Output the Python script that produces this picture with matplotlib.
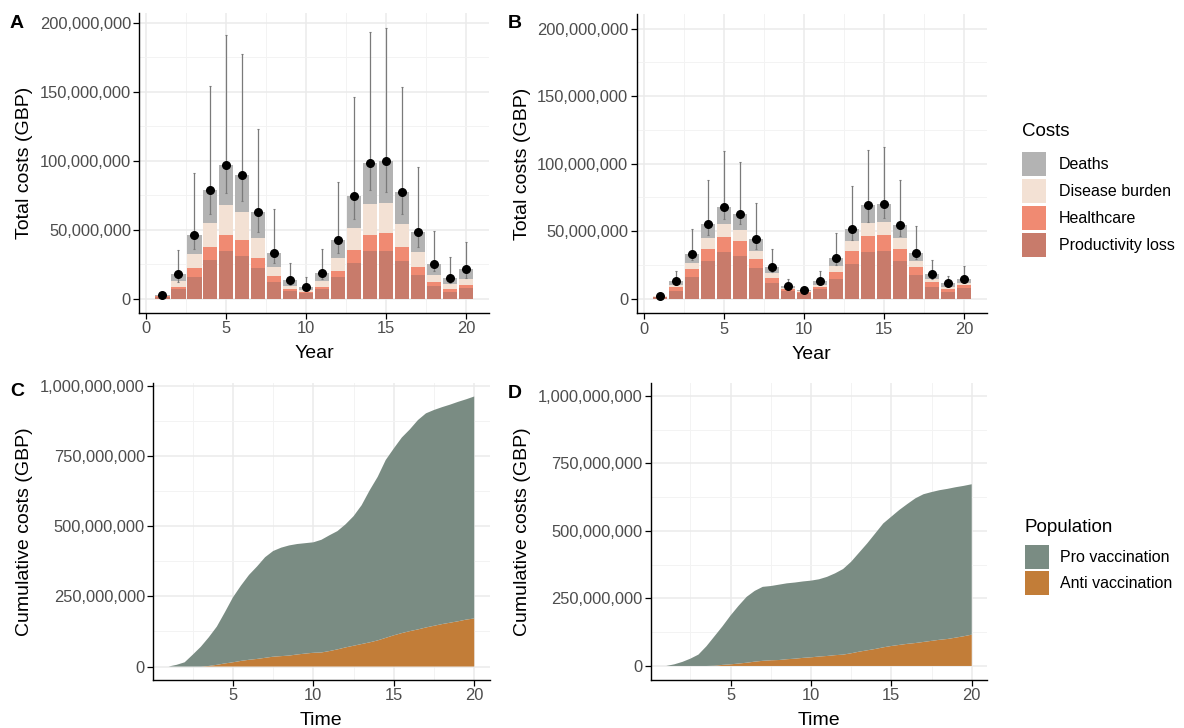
import numpy as np
import matplotlib.pyplot as plt
from matplotlib.patches import Patch
from matplotlib.ticker import MultipleLocator, FuncFormatter

plt.rcParams['font.family'] = ['Liberation Sans', 'DejaVu Sans']

# yearly costs (million GBP), stacked bottom -> top
years = np.arange(1, 21)
prod_a = [1.4, 7.2, 15.9, 28.0, 34.8, 31.2, 22.0, 12.1, 5.8, 3.9, 7.2, 15.5, 26.1, 34.8, 34.8, 27.3, 16.9, 9.4, 5.1, 7.5]
health_a = [0.4, 1.5, 6.1, 9.2, 11.6, 11.1, 7.7, 4.1, 1.4, 0.9, 1.5, 4.8, 9.4, 11.6, 12.5, 9.9, 5.8, 2.4, 2.1, 2.4]
burden_a = [0.3, 4.1, 10.1, 17.6, 21.2, 20.3, 14.3, 6.7, 2.2, 1.2, 4.1, 9.4, 15.9, 22.2, 22.3, 16.9, 11.4, 5.6, 3.2, 4.4]
deaths_a = [0.3, 5.1, 14.3, 23.7, 29.5, 26.8, 18.6, 10.0, 3.9, 2.5, 5.8, 12.8, 23.2, 29.7, 30.2, 23.4, 14.2, 8.0, 4.8, 7.0]
hi_a = [3.0, 35.3, 90.8, 154.0, 191.3, 177.0, 123.0, 64.7, 25.6, 15.9, 36.2, 84.3, 145.9, 193.0, 195.9, 153.6, 95.2, 49.3, 30.0, 41.3]
lo_a = [1.8, 12.0, 35.7, 61.4, 76.3, 70.8, 48.3, 25.6, 9.9, 6.6, 14.0, 33.3, 58.0, 78.7, 77.5, 61.4, 37.7, 20.3, 11.1, 15.2]

prod_b = [1.2, 5.9, 16.3, 27.7, 34.6, 31.9, 22.5, 11.4, 5.9, 4.0, 7.4, 14.8, 26.0, 34.6, 35.6, 27.7, 17.3, 8.9, 5.2, 7.7]
health_b = [0.3, 3.0, 5.5, 9.4, 11.1, 10.6, 6.9, 4.2, 1.0, 0.7, 1.5, 5.2, 9.6, 12.1, 11.9, 9.4, 6.2, 3.2, 2.2, 2.4]
burden_b = [0.3, 1.2, 4.9, 7.9, 9.7, 8.4, 6.2, 3.4, 1.0, 0.7, 1.5, 4.2, 6.9, 9.4, 9.6, 7.9, 4.2, 2.7, 1.3, 1.8]
deaths_b = [0.2, 3.0, 6.4, 10.4, 12.8, 12.1, 8.4, 4.5, 1.7, 1.0, 2.5, 6.2, 9.4, 13.1, 13.1, 9.4, 6.2, 3.5, 2.7, 2.9]
hi_b = [2.6, 20.8, 51.7, 88.0, 109.5, 100.9, 70.7, 37.1, 14.6, 8.9, 20.8, 48.5, 83.8, 110.3, 112.5, 87.8, 54.1, 28.7, 17.1, 24.2]
lo_b = [0.8, 10.1, 28.7, 47.5, 59.3, 55.4, 37.1, 19.8, 7.7, 5.2, 10.9, 25.0, 43.5, 57.1, 59.6, 46.5, 29.4, 14.8, 9.1, 12.2]

# cumulative costs (million GBP), half-year steps
time = np.arange(1, 20.5, 0.5)
anti_c = [0, 0, 0, 0, 0, 2, 6, 11, 15, 20, 24, 27, 31, 35, 37, 39, 43, 46, 49, 50, 55, 61, 68, 74, 80, 86,
          93, 102, 111, 119, 126, 132, 139, 145, 151, 156, 161, 167, 171]
pro_c = [0, 6, 15, 42, 70, 102, 136, 182, 231, 268, 302, 329, 358, 376, 386, 392, 393, 393, 393, 401, 412, 421,
         438, 461, 494, 541, 582, 633, 665, 696, 718, 745, 762, 768, 772, 776, 781, 784, 790]
anti_d = [0, 0, 0, 0, 0, 0, 1, 4, 6, 9, 12, 16, 19, 21, 22, 25, 27, 30, 32, 35, 37, 40, 42, 47, 53, 58,
          63, 69, 74, 78, 82, 85, 89, 93, 97, 100, 105, 110, 116]
pro_d = [0, 6, 15, 27, 42, 73, 109, 143, 181, 214, 244, 262, 274, 275, 279, 281, 282, 283, 284, 286, 293, 303,
         317, 339, 367, 396, 428, 459, 479, 500, 518, 536, 547, 551, 554, 556, 557, 557, 557]

cost_names = ['Deaths', 'Disease burden', 'Healthcare', 'Productivity loss']
cost_cols = ['#b3b3b3', '#f3e1d4', '#f08a72', '#c87b6b']
pop_names = ['Pro vaccination', 'Anti vaccination']
pop_cols = ['#7a8c83', '#c27d38']

W, H = 1184, 728
fig = plt.figure(figsize=(W / 100, H / 100), dpi=100)


def add_ax(l, t, r, b):
    return fig.add_axes([l / W, 1 - b / H, (r - l) / W, (b - t) / H])


comma = FuncFormatter(lambda v, p: f'{v:,.0f}')


def style(ax, xmaj, ymaj):
    ax.set_axisbelow(True)
    for s in ['top', 'right']:
        ax.spines[s].set_visible(False)
    for s in ['left', 'bottom']:
        ax.spines[s].set_linewidth(1.0)
    ax.xaxis.set_major_locator(MultipleLocator(xmaj))
    ax.xaxis.set_minor_locator(MultipleLocator(xmaj / 2))
    ax.yaxis.set_major_locator(MultipleLocator(ymaj))
    ax.yaxis.set_minor_locator(MultipleLocator(ymaj / 2))
    ax.yaxis.set_major_formatter(comma)
    ax.grid(True, which='major', color='#ebebeb', lw=1.1)
    ax.grid(True, which='minor', color='#f3f3f3', lw=0.7)
    ax.tick_params(which='major', length=4, width=0.9, labelsize=11.9, labelcolor='#4d4d4d', pad=2)
    ax.tick_params(which='minor', length=0)


def cost_panel(ax, parts, hi, lo, ylim):
    m = 1e6
    bottom = np.zeros(len(years))
    for vals, col in zip(parts, cost_cols[::-1]):
        v = np.array(vals) * m
        ax.bar(years, v, width=0.9, bottom=bottom, color=col, lw=0)
        bottom += v
    ax.errorbar(years, bottom, yerr=[bottom - np.array(lo) * m, np.array(hi) * m - bottom],
                fmt='none', ecolor='#7a7a7a', elinewidth=0.9, capsize=0.8, capthick=0.8)
    ax.scatter(years, bottom, s=30, color='black', zorder=5)
    style(ax, 5, 50e6)
    ax.set_xlim(-0.445, 21.445)
    ax.set_ylim(ylim[0] * m, ylim[1] * m)
    ax.set_xlabel('Year', fontsize=14)
    ax.set_ylabel('Total costs (GBP)', fontsize=14)


def cum_panel(ax, pro, anti, ylim):
    m = 1e6
    ax.stackplot(time, np.array(anti) * m, np.array(pro) * m, colors=pop_cols[::-1], lw=0)
    style(ax, 5, 250e6)
    ax.set_xlim(0.05, 20.95)
    ax.set_ylim(ylim[0] * m, ylim[1] * m)
    ax.set_xlabel('Time', fontsize=14)
    ax.set_ylabel('Cumulative costs (GBP)', fontsize=14)


ax_a = add_ax(139.3, 13, 489, 313)
cost_panel(ax_a, [prod_a, health_a, burden_a, deaths_a], hi_a, lo_a, (-10.4, 207))
ax_b = add_ax(636.7, 14, 987, 313.3)
cost_panel(ax_b, [prod_b, health_b, burden_b, deaths_b], hi_b, lo_b, (-10.8, 210.8))
ax_c = add_ax(153.3, 383, 489.5, 680)
cum_panel(ax_c, pro_c, anti_c, (-48, 1009))
ax_d = add_ax(651, 383, 987, 680)
cum_panel(ax_d, pro_d, anti_d, (-52, 1048))

for ax, left in [(ax_a, 139.3), (ax_b, 636.7), (ax_c, 153.3), (ax_d, 651)]:
    bb = ax.get_position()
    ax.yaxis.set_label_coords((33 + (498 if left > 600 else 0) - left) / (bb.width * W), 0.5)
    ax.xaxis.set_label_coords(0.5, -0.108)

for lab, x, y in [('A', 10, 24), ('B', 508, 24), ('C', 10, 392), ('D', 508, 394)]:
    fig.text(x / W, 1 - y / H, lab, fontsize=14, fontweight='bold', va='center', ha='left')

# legends
fig.text(1022 / W, 1 - 131 / H, 'Costs', fontsize=13.5, va='center', ha='left')
fig.legend(handles=[Patch(color=c, lw=0) for c in cost_cols], labels=cost_names,
           loc='upper left', bbox_to_anchor=(1022 / W, 1 - 152 / H), frameon=False,
           fontsize=11.5, handlelength=1.5, handleheight=1.93, labelspacing=0.19,
           handletextpad=0.8, borderpad=0, borderaxespad=0)
fig.text(1024 / W, 1 - 527 / H, 'Population', fontsize=13.5, va='center', ha='left')
fig.legend(handles=[Patch(color=c, lw=0) for c in pop_cols], labels=pop_names,
           loc='upper left', bbox_to_anchor=(1025 / W, 1 - 545 / H), frameon=False,
           fontsize=11.5, handlelength=1.5, handleheight=1.93, labelspacing=0.13,
           handletextpad=0.7, borderpad=0, borderaxespad=0)

fig.savefig('out.png', dpi=100)
